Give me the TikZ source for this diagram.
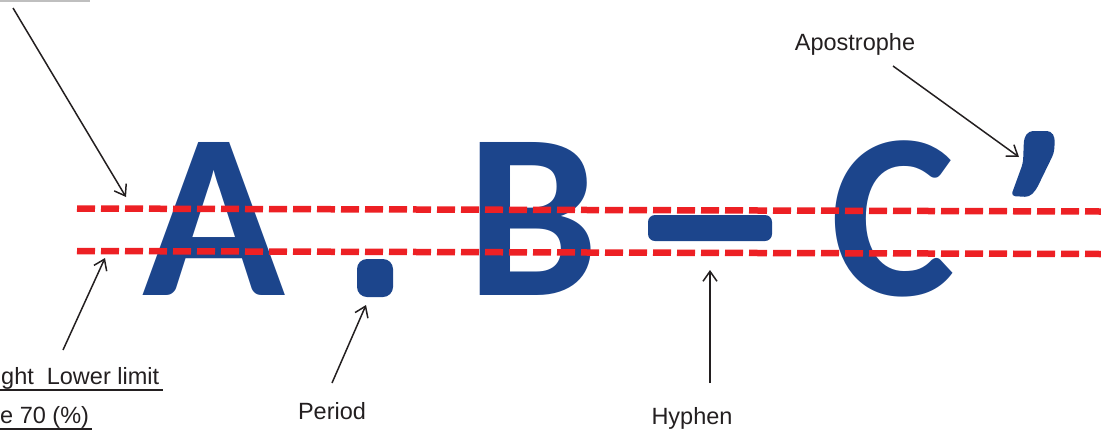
\documentclass[tikz,border=0pt]{standalone}
\usepackage{fontspec}
\setmainfont{Liberation Sans}
\newfontfamily\bigfont{Carlito}
\usetikzlibrary{arrows.meta}
\definecolor{glyphblue}{RGB}{28,69,140}
\definecolor{guidered}{RGB}{237,32,36}
\definecolor{inkgray}{RGB}{35,31,32}
\tikzset{
  glyph/.style={anchor=base west, inner sep=0pt, text=glyphblue, font=\bigfont\bfseries\fontsize{236}{236}\selectfont},
  blob/.style={fill=glyphblue, draw=none, inner sep=0pt},
  label/.style={inner sep=0pt, text=inkgray, font=\fontsize{23.5}{28}\selectfont},
  guide/.style={draw=guidered, line width=6.5pt, dash pattern=on 18pt off 6pt},
  pointer/.style={draw=inkgray, line width=1.5pt, -{Straight Barb[length=10pt, width=14pt, line width=1.5pt]}},
  rule/.style={draw=inkgray, line width=1.5pt}
}
\begin{document}
\begin{tikzpicture}[x=1pt, y=-1pt]
\useasboundingbox (0,0) rectangle (1101,432);
% glyphs
\node[glyph] (A) at (142,295) {A};
\node[blob, rounded corners=10pt, minimum width=36pt, minimum height=38pt] (dot) at (375,278) {};
\node[glyph] (B) at (466,295) {B};
\node[blob, rounded corners=7pt, minimum width=124pt, minimum height=26pt] (dash) at (710,228) {};
\node[glyph] (C) at (830,295) {C};
\fill[glyphblue, rounded corners=4pt] (1024,138) -- (1029,131) -- (1051,131) -- (1055,138) -- (1054,153) -- (1036,190) -- (1029,197) -- (1011,196) -- (1023,163) -- cycle;
\coordinate (apo) at (1033,160);
% guide lines
\coordinate (u1) at (77,208.5);
\coordinate (u2) at (1101,211.5);
\coordinate (l1) at (77,251);
\coordinate (l2) at (1101,254);
\draw[guide] (u1) -- (u2);
\draw[guide] (l1) -- (l2);
% labels
\node[label, anchor=base] (apolab) at (855,50) {Apostrophe};
\node[label, anchor=base] (perlab) at (332,419) {Period};
\node[label, anchor=base] (hyplab) at (692,424) {Hyphen};
\node[label, anchor=base west] (lowlab) at (1,384) {ght\hspace{13pt}Lower limit};
\node[label, anchor=base west] (pctlab) at (0,423) {e 70 (\%)};
% underlines
\coordinate (t0) at (0,1);
\coordinate (t1) at (90,1);
\draw[draw=black!25, line width=2pt] (t0) -- (t1);
\coordinate (r0) at (0,390);
\coordinate (r1) at (163,390);
\draw[rule] (r0) -- (r1);
\coordinate (s0) at (0,429);
\coordinate (s1) at (92,429);
\draw[rule] (s0) -- (s1);
% pointers
\coordinate (p1s) at (13,8);
\coordinate (p1e) at (126,197);
\coordinate (p2s) at (63,350);
\coordinate (p2e) at (105,258);
\coordinate (p3s) at (332,383);
\coordinate (p3e) at (366,305);
\coordinate (p4s) at (710,383);
\coordinate (p4e) at (710,270);
\coordinate (p5s) at (893,66);
\coordinate (p5e) at (1019,157);
\draw[pointer] (p1s) -- (p1e);
\draw[pointer] (p2s) -- (p2e);
\draw[pointer] (p3s) -- (p3e);
\draw[pointer] (p4s) -- (p4e);
\draw[pointer] (p5s) -- (p5e);
\end{tikzpicture}
\end{document}
